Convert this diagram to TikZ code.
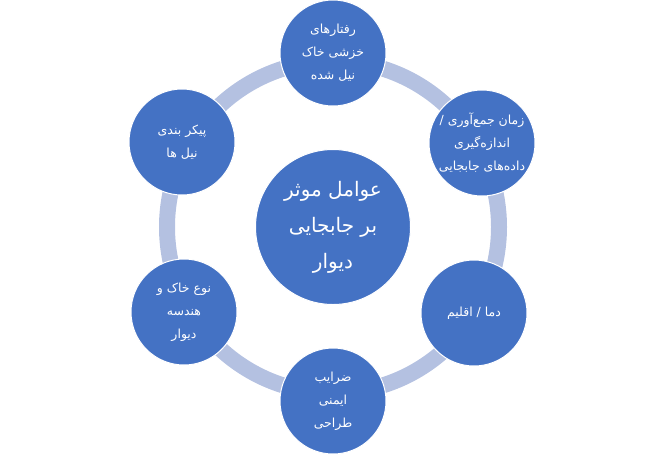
\documentclass[tikz,border=0pt]{standalone}
\usepackage{fontspec}
\usepackage{xcolor}
\newfontfamily\arabicfont[Script=Arabic]{DejaVu Sans}
\TeXXeTstate=1
\newcommand{\fa}[1]{\beginR #1\endR}

\definecolor{nodeblue}{HTML}{4472C4}
\definecolor{ringblue}{HTML}{B4C1E1}

\tikzset{
  factor/.style={circle, fill=nodeblue, draw=white, line width=1pt,
    minimum size=106pt, inner sep=0pt, text=white, align=center,
    font=\arabicfont\fontsize{12.5}{23}\selectfont},
  core/.style={factor, minimum size=155pt,
    font=\arabicfont\fontsize{20}{36}\selectfont}
}

\begin{document}
\begin{tikzpicture}[x=1pt,y=-1pt]
\useasboundingbox (0,0) rectangle (650,456);

% Ring behind the factors
\draw[ringblue, line width=16pt] (333,227) circle (166pt);

% Central node
\node[core] (center) at (333,227) {\fa{عوامل موثر}\\\fa{بر جابجایی}\\\fa{دیوار}};

% Six factors round the ring
\node[factor] (creep)  at (333,53)  {\fa{رفتارهای}\\\fa{خزشی خاک}\\\fa{نیل شده}};
\node[factor] (time)   at (482,143) {\fa{زمان جمع‌آوری /}\\\fa{اندازه‌گیری}\\\fa{داده‌های جابجایی}};
\node[factor] (climate) at (474,313) {\fa{دما / اقلیم}};
\node[factor] (safety) at (333,401) {\fa{ضرایب}\\\fa{ایمنی}\\\fa{طراحی}};
\node[factor] (soil)   at (184,312) {\fa{نوع خاک و}\\\fa{هندسه}\\\fa{دیوار}};
\node[factor] (layout) at (182,142) {\fa{پیکر بندی}\\\fa{نیل ها}};

\end{tikzpicture}
\end{document}
